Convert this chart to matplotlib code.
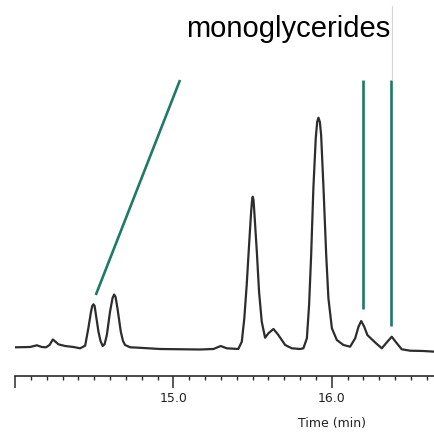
import matplotlib.pyplot as plt
from matplotlib.transforms import blended_transform_factory

# detector trace, time in minutes and response (arbitrary units)
time_min = [
    14.001, 14.095, 14.138, 14.169, 14.196, 14.218, 14.239, 14.258, 14.274, 14.316,
    14.369, 14.411, 14.443, 14.463, 14.480, 14.488, 14.495, 14.503, 14.508, 14.527,
    14.540, 14.554, 14.566, 14.580, 14.600, 14.616, 14.626, 14.635, 14.647, 14.668,
    14.682, 14.695, 14.727, 14.779, 14.916, 15.168, 15.253, 15.299, 15.337, 15.410,
    15.432, 15.448, 15.463, 15.478, 15.491, 15.497, 15.501, 15.506, 15.511, 15.527,
    15.541, 15.558, 15.579, 15.600, 15.632, 15.663, 15.706, 15.748, 15.800, 15.821,
    15.843, 15.857, 15.870, 15.884, 15.899, 15.908, 15.916, 15.925, 15.933, 15.948,
    15.965, 15.979, 16.001, 16.032, 16.074, 16.116, 16.148, 16.169, 16.186, 16.205,
    16.225, 16.253, 16.280, 16.316, 16.348, 16.379, 16.406, 16.442, 16.495, 16.578,
    16.652,
]
response = [
    2.7, 3.0, 4.7, 3.0, 2.7, 5.0, 10.5, 8.0, 5.7, 4.0,
    3.0, 1.7, 4.3, 21.7, 38.3, 44.0, 45.7, 44.0, 38.3, 18.3,
    9.0, 4.0, 6.0, 15.0, 38.3, 52.0, 55.5, 53.0, 41.7, 18.3,
    9.0, 5.0, 2.7, 2.3, 1.0, 0.5, 1.0, 4.0, 1.7, 1.0,
    8.3, 31.7, 65.0, 105.0, 138.3, 150.0, 153.3, 150.0, 138.3, 98.3,
    58.3, 28.3, 12.3, 16.7, 21.0, 15.0, 5.0, 1.7, 1.0, 1.7,
    11.7, 45.0, 95.0, 161.7, 211.7, 228.0, 232.3, 228.0, 215.0, 161.7,
    95.0, 51.7, 21.7, 10.0, 5.0, 3.3, 11.7, 23.3, 29.0, 23.3,
    15.0, 10.7, 6.7, 1.7, 7.7, 13.3, 7.7, 0.7, -0.7, -1.0,
    -1.7,
]

# pointer lines for the monoglyceride peaks: (t0, y0) -> (t1, y1)
pointer_t0 = [15.042, 16.196, 16.372]
pointer_y0 = [270, 270, 270]
pointer_t1 = [14.510, 16.196, 16.372]
pointer_y1 = [55, 41, 24]

major_ticks = [14.0, 15.0, 16.0]
major_labels = ["", "15.0", "16.0"]
minor_ticks = [14.0 + 0.1 * i for i in range(27)]

fig = plt.figure(figsize=(4.35, 4.32), dpi=100)
ax = fig.add_axes([15 / 435, 56 / 432, 420 / 435, 376 / 432])
ax.patch.set_visible(False)

ax.plot(time_min, response, color="#2d2d2d", lw=1.6, solid_joinstyle="round",
        solid_capstyle="round")

teal = "#1f7a66"
for t0, y0, t1, y1 in zip(pointer_t0, pointer_y0, pointer_t1, pointer_y1):
    ax.plot([t0, t1], [y0, y1], color=teal, lw=1.9, solid_capstyle="butt")
# thin cursor mark above the last pointer
ax.plot([16.379, 16.379], [270, 344], color="#d6d6d6", lw=0.8)

ax.text(15.081, 312.7, "monoglycerides", fontsize=21, family="Liberation Sans",
        color="black", ha="left", va="baseline")

ax.set_xlim(14.0, 16.652)
ax.set_ylim(-26, 350)

for side in ["left", "right", "top"]:
    ax.spines[side].set_visible(False)
ax.spines["bottom"].set_linewidth(1.2)
ax.spines["bottom"].set_color("#2a2a2a")
ax.set_yticks([])

ax.set_xticks(major_ticks)
ax.set_xticklabels(major_labels)
ax.set_xticks(minor_ticks, minor=True)
ax.tick_params(axis="x", which="major", direction="out", length=8.5, width=1.1,
               color="#2a2a2a", pad=3, labelsize=9, labelcolor="#222222")
ax.tick_params(axis="x", which="minor", direction="out", length=3, width=1.0,
               color="#2a2a2a")

ax.set_xlabel("Time (min)", fontsize=9, color="#222222")
ax.xaxis.set_label_coords(16.0, 9 / 432,
                          transform=blended_transform_factory(ax.transData, fig.transFigure))
ax.xaxis.label.set_va("center")

fig.savefig("out.png", dpi=100)
